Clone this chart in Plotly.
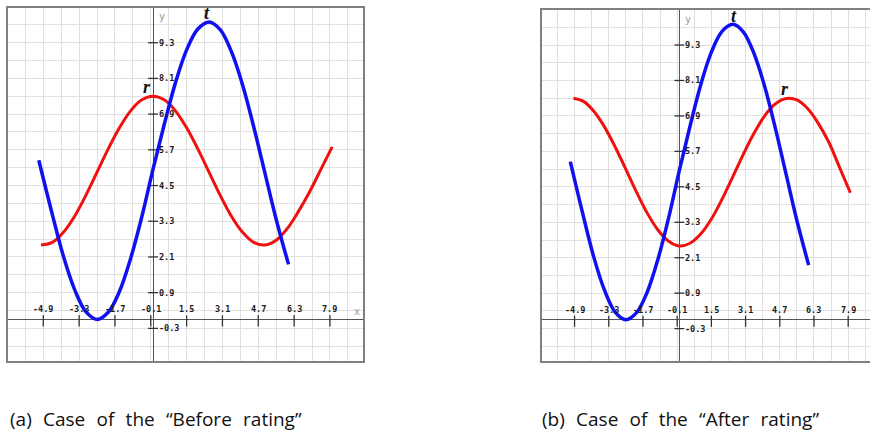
import plotly.graph_objects as go

# ---- data ----
t_x = [-5.1, -4.5, -4.0, -3.5, -3.0, -2.5, -2.0, -1.5, -1.0, -0.5, 0.0, 0.5, 1.0,
       1.5, 2.0, 2.5, 3.0, 3.5, 4.0, 4.5, 5.0, 5.5, 6.05]
t_y = [5.35, 3.54, 2.12, 1.0, 0.26, 0.0, 0.24, 0.94, 2.05, 3.45, 5.05, 6.55, 7.95,
       9.06, 9.76, 10.0, 9.74, 9.0, 7.88, 6.46, 4.91, 3.36, 1.85]

r_x = [-5.0, -4.5, -4.0, -3.5, -3.0, -2.5, -2.0, -1.5, -1.0, -0.5, 0.0, 0.5, 1.0, 1.5,
       2.0, 2.5, 3.0, 3.5, 4.0, 4.5, 5.0, 5.5, 6.0, 6.5, 7.0, 7.5, 8.0]
r_before = [2.50, 2.59, 2.93, 3.47, 4.17, 4.95, 5.73, 6.44, 7.01, 7.38, 7.5, 7.38, 7.01,
            6.44, 5.73, 4.95, 4.17, 3.47, 2.93, 2.59, 2.50, 2.66, 3.06, 3.64, 4.3, 5.05, 5.8]

rb_x = [-4.95, -4.5, -4.0, -3.5, -3.0, -2.5, -2.0, -1.5, -1.0, -0.5, 0.0, 0.5, 1.0, 1.5,
        2.0, 2.5, 3.0, 3.5, 4.0, 4.5, 5.0, 5.5, 6.0, 6.5, 7.0, 7.5, 8.0]
r_after = [7.5, 7.40, 7.06, 6.53, 5.85, 5.09, 4.32, 3.61, 3.04, 2.66, 2.50, 2.59, 2.90,
           3.41, 4.08, 4.84, 5.61, 6.32, 6.91, 7.31, 7.49, 7.44, 7.15, 6.65, 6.0, 5.15, 4.3]

x_ticks = [-4.9, -3.3, -1.7, -0.1, 1.5, 3.1, 4.7, 6.3, 7.9]
y_ticks = [-0.3, 0.9, 2.1, 3.3, 4.5, 5.7, 6.9, 8.1, 9.3]
x_tick_labels = ["-4.9", "-3.3", "-1.7", "-0.1", "1.5", "3.1", "4.7", "6.3", "7.9"]
y_tick_labels = ["-0.3", "0.9", "2.1", "3.3", "4.5", "5.7", "6.9", "8.1", "9.3"]

captions = ["(a) Case of the \u201cBefore rating\u201d", "(b) Case of the \u201cAfter rating\u201d"]

# curve label positions (data coords)
t_label = [(2.41, 10.3), (2.57, 10.3)]
r_label = [(-0.28, 7.8), (4.94, 7.8)]

W, H = 870, 435
BLUE = "#1010f0"
RED = "#f01010"

fig = go.Figure()

panels = [
    dict(xa="x", ya="y", rx=r_x, ry=r_before),
    dict(xa="x2", ya="y2", rx=rb_x, ry=r_after),
]

annotations = []
mono = dict(family="DejaVu Sans Mono", size=8.5, color="#1a1a1a")

def wide(s):
    # wider word spacing as in the reference caption
    return s.replace(" ", " \u2004")

for i, p in enumerate(panels):
    # tick marks on the axes
    fig.add_trace(go.Scatter(x=x_ticks, y=[-0.05] * len(x_ticks), mode="markers",
                             xaxis=p["xa"], yaxis=p["ya"], hoverinfo="skip",
                             marker=dict(symbol="line-ns", size=8,
                                         line=dict(width=1.3, color="#333"))))
    fig.add_trace(go.Scatter(x=[0] * len(y_ticks), y=y_ticks, mode="markers",
                             xaxis=p["xa"], yaxis=p["ya"], hoverinfo="skip",
                             marker=dict(symbol="line-ew", size=7,
                                         line=dict(width=1.3, color="#333"))))
    # curves
    fig.add_trace(go.Scatter(x=p["rx"], y=p["ry"], mode="lines", line_shape="spline",
                             line=dict(color=RED, width=3), xaxis=p["xa"], yaxis=p["ya"]))
    fig.add_trace(go.Scatter(x=t_x, y=t_y, mode="lines", line_shape="spline",
                             line=dict(color=BLUE, width=3.5), xaxis=p["xa"], yaxis=p["ya"]))

    for xv, lab in zip(x_ticks, x_tick_labels):
        annotations.append(dict(x=xv, y=0, xref=p["xa"], yref=p["ya"], text="<b>%s</b>" % lab,
                                showarrow=False, xanchor="center", yanchor="bottom",
                                yshift=3, font=mono))
    for yv, lab in zip(y_ticks, y_tick_labels):
        annotations.append(dict(x=0, y=yv, xref=p["xa"], yref=p["ya"], text="<b>%s</b>" % lab,
                                showarrow=False, xanchor="left", yanchor="middle",
                                xshift=4, font=mono))
    annotations.append(dict(x=0.39, y=10.17, xref=p["xa"], yref=p["ya"], text="y",
                            showarrow=False, font=dict(family="DejaVu Sans Mono", size=10, color="#999")))
    annotations.append(dict(x=9.09, y=0.28, xref=p["xa"], yref=p["ya"], text="x",
                            showarrow=False, font=dict(family="DejaVu Sans Mono", size=10, color="#999")))
    annotations.append(dict(x=t_label[i][0], y=t_label[i][1], xref=p["xa"], yref=p["ya"],
                            text="<b><i>t</i></b>", showarrow=False,
                            font=dict(family="Liberation Serif", size=18, color="#111")))
    annotations.append(dict(x=r_label[i][0], y=r_label[i][1], xref=p["xa"], yref=p["ya"],
                            text="<b><i>r</i></b>", showarrow=False,
                            font=dict(family="Liberation Serif", size=18, color="#111")))

cap_font = dict(family="Open Sans", size=19, color="#111")
annotations.append(dict(x=8 / W, y=1 - 419 / H, xref="paper", yref="paper", text=wide(captions[0]),
                        showarrow=False, xanchor="left", yanchor="middle", font=cap_font))
annotations.append(dict(x=540 / W, y=1 - 419 / H, xref="paper", yref="paper", text=wide(captions[1]),
                        showarrow=False, xanchor="left", yanchor="middle", font=cap_font))

axis_common = dict(showticklabels=False, ticks="", showgrid=True, gridcolor="#e0e0e0",
                   gridwidth=1, zeroline=True, zerolinecolor="#555", zerolinewidth=1,
                   showline=False, fixedrange=True)

fig.update_layout(
    width=W, height=H, margin=dict(l=0, r=0, t=0, b=0),
    paper_bgcolor="white", plot_bgcolor="white", showlegend=False,
    xaxis=dict(domain=[7 / W, 364 / W], range=[-6.52, 9.42], tick0=-0.1, dtick=0.8,
               anchor="y", **axis_common),
    yaxis=dict(domain=[1 - 362 / H, 1 - 7 / H], range=[-1.43, 10.5], tick0=-0.3, dtick=0.6,
               anchor="x", **axis_common),
    xaxis2=dict(domain=[541 / W, 1.0], range=[-6.47, 8.92], tick0=-0.1, dtick=0.8,
                anchor="y2", **axis_common),
    yaxis2=dict(domain=[1 - 362 / H, 1 - 9 / H], range=[-1.43, 10.52], tick0=-0.3, dtick=0.6,
                anchor="x2", **axis_common),
    annotations=annotations,
    shapes=[
        dict(type="rect", xref="x domain", yref="y domain", x0=0, x1=1, y0=0, y1=1,
             line=dict(color="#808080", width=2)),
        dict(type="rect", xref="x2 domain", yref="y2 domain", x0=0, x1=1.2, y0=0, y1=1,
             line=dict(color="#808080", width=2)),
    ],
)

fig.write_html("out.html", config={"displayModeBar": False},
               post_script="document.body.style.margin='0';")
